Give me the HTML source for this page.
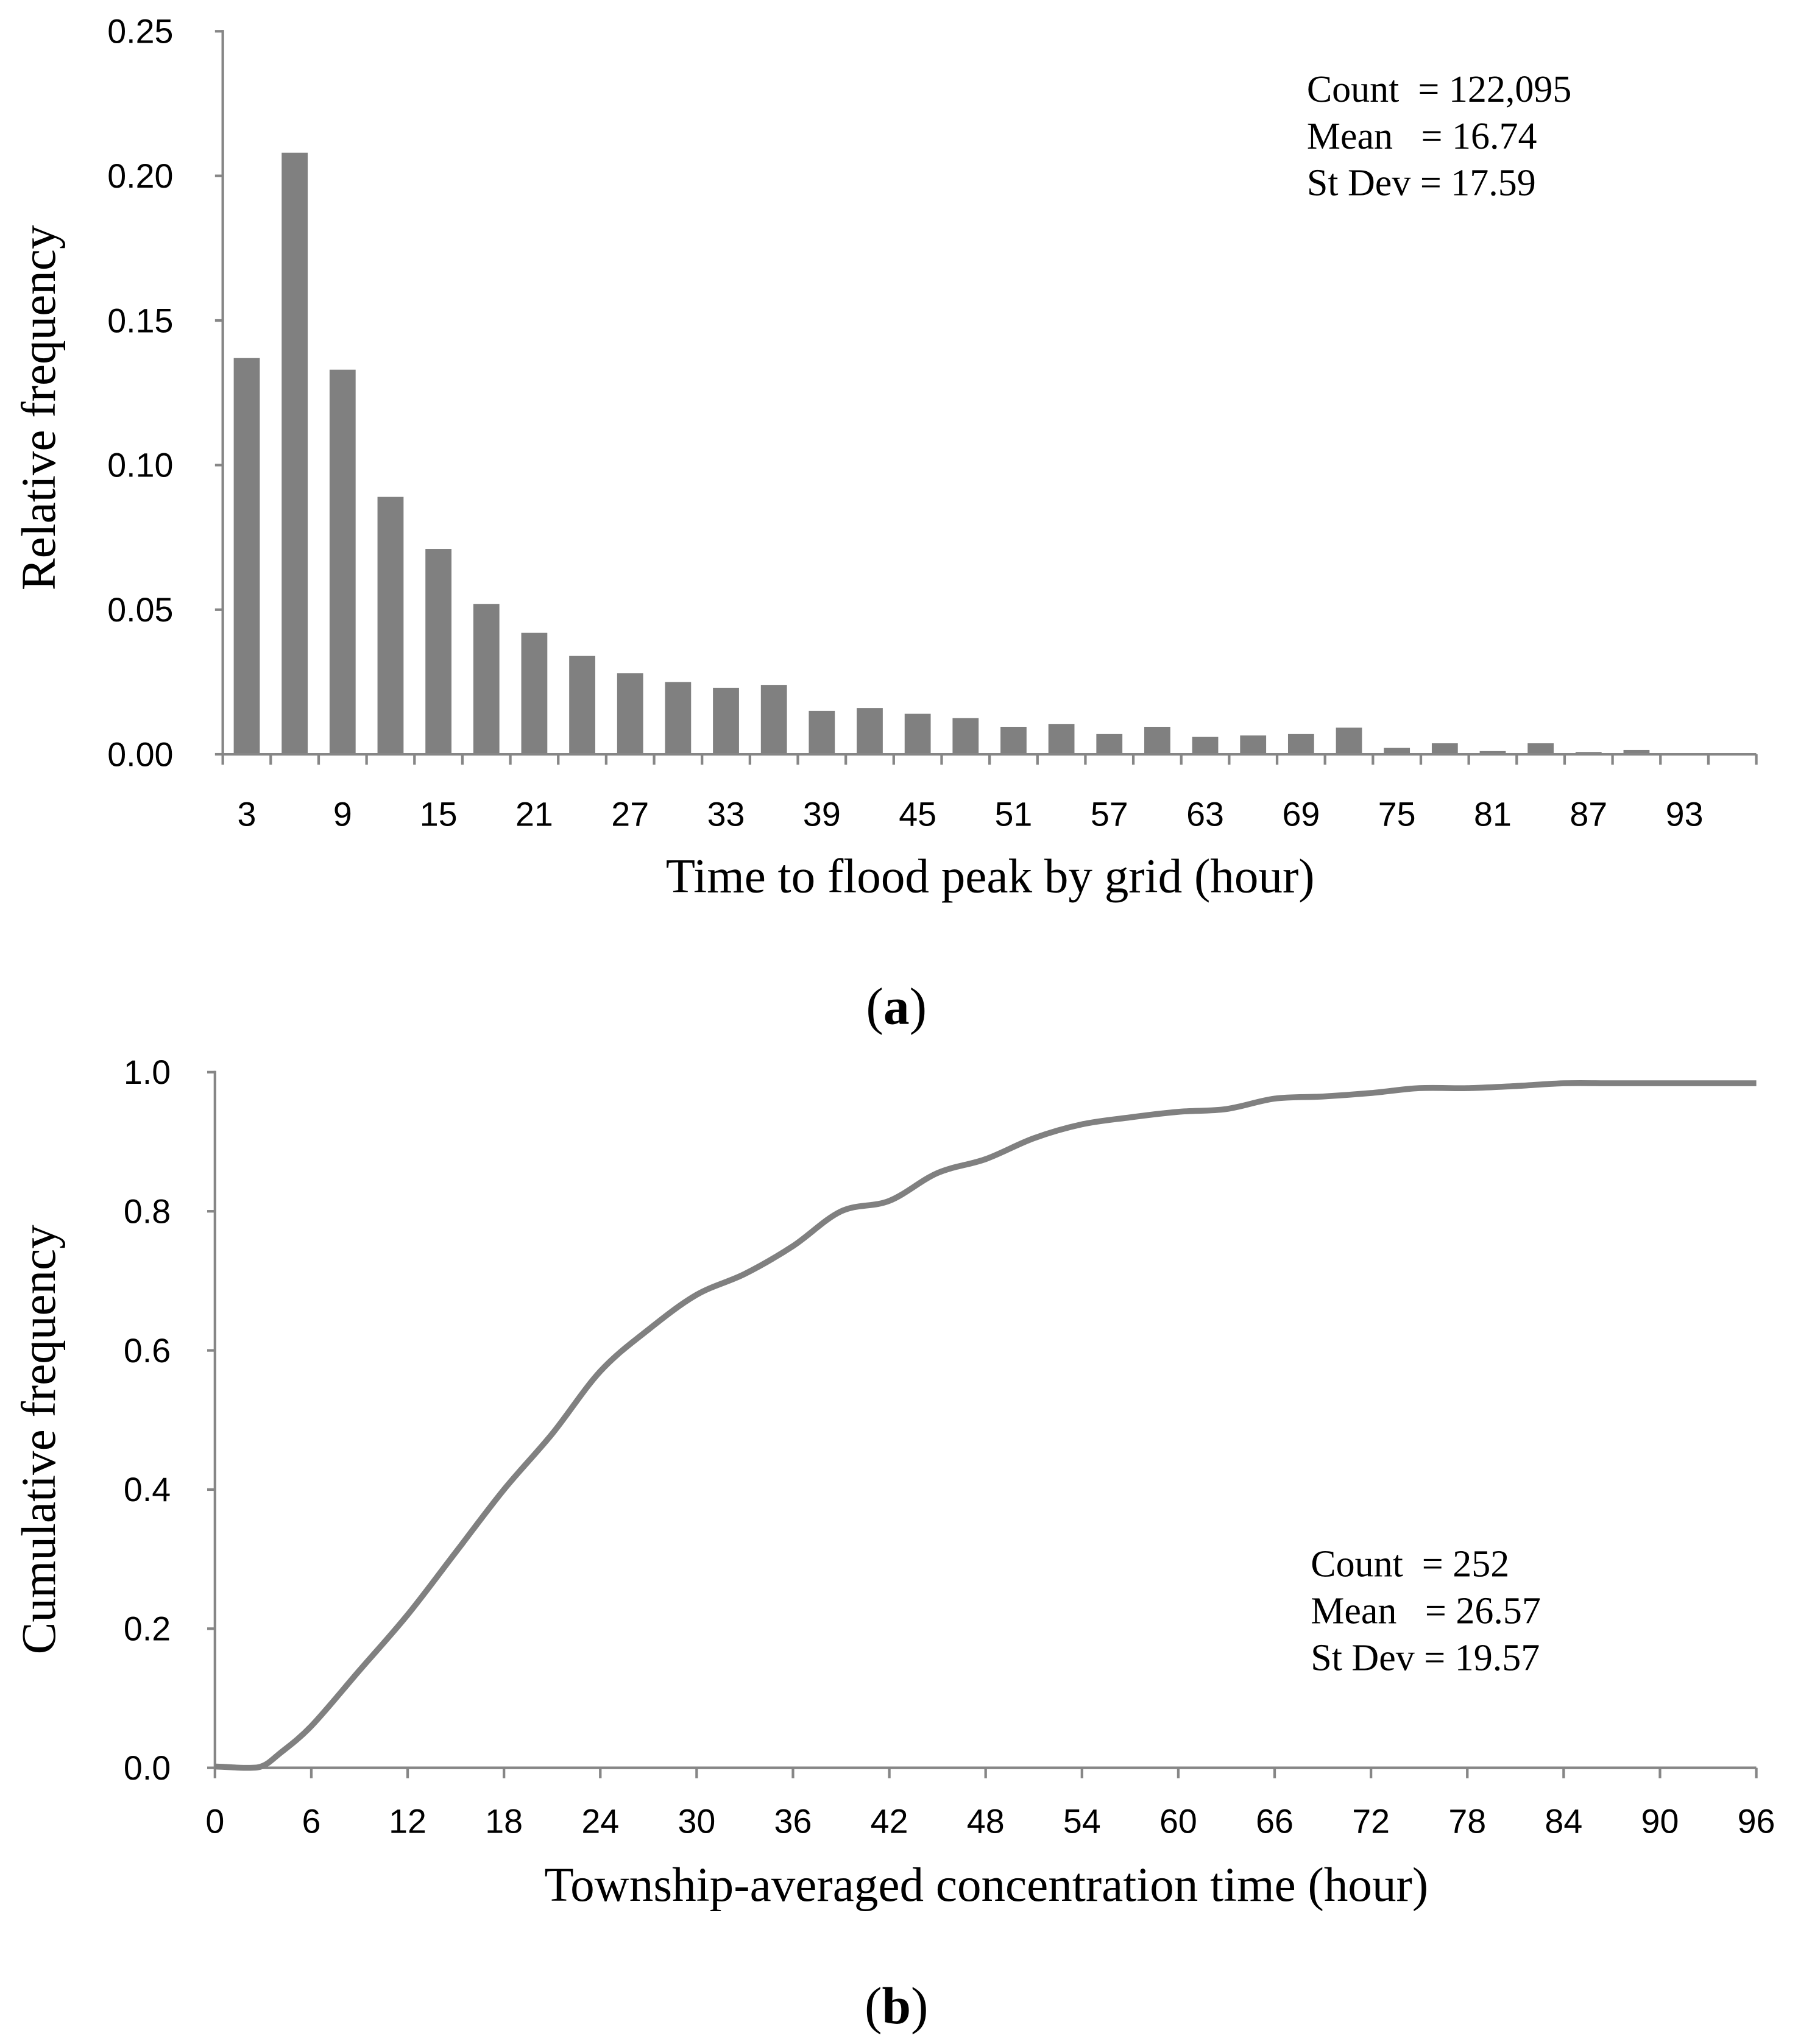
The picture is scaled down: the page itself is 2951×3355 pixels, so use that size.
<!DOCTYPE html>
<html><head><meta charset="utf-8"><style>
html,body{margin:0;padding:0;background:#fff;}
svg{display:block;}
.tick{font-family:"Liberation Sans",sans-serif;font-size:26px;fill:#000;}
.title{font-family:"Liberation Serif",serif;font-size:37px;fill:#000;}
.panel{font-family:"Liberation Serif",serif;font-size:40px;fill:#000;}
.note{font-family:"Liberation Serif",serif;font-size:29px;fill:#000;white-space:pre;}
</style></head><body>
<svg id="fig" width="2951" height="3355" viewBox="0 0 1380 1569" preserveAspectRatio="none" xmlns="http://www.w3.org/2000/svg">
<g id="chartA"></g>
<g id="chartB"></g>
</svg>
<script>
const aCategories=[3,6,9,12,15,18,21,24,27,30,33,36,39,42,45,48,51,54,57,60,63,66,69,72,75,78,81,84,87,90,93,96];
const aValues=[0.137,0.208,0.133,0.089,0.071,0.052,0.042,0.034,0.028,0.025,0.023,0.024,0.015,0.016,0.014,0.0125,0.0095,0.0105,0.007,0.0095,0.006,0.0065,0.007,0.0092,0.0022,0.0038,0.0011,0.0038,0.0008,0.0015,0,0];
const aYTicks=[0,0.05,0.10,0.15,0.20,0.25];
const bX=[0,2,3,4,6,9,12,15,18,21,24,27,30,33,36,39,42,45,48,51,54,57,60,63,66,69,72,75,78,81,84,87,90,96];
const bY=[0.002,0.0,0.003,0.02,0.06,0.14,0.22,0.31,0.40,0.48,0.57,0.63,0.68,0.71,0.75,0.80,0.815,0.855,0.875,0.905,0.925,0.935,0.943,0.947,0.962,0.965,0.97,0.977,0.977,0.98,0.984,0.984,0.984,0.984];
const bXTicks=[0,6,12,18,24,30,36,42,48,54,60,66,72,78,84,90,96];
const bYTicks=[0,0.2,0.4,0.6,0.8,1.0];
const NS="http://www.w3.org/2000/svg";
function mk(parent,tag,attrs,text){const e=document.createElementNS(NS,tag);for(const k in attrs)e.setAttribute(k,attrs[k]);if(text!==undefined)e.textContent=text;parent.appendChild(e);return e;}
// Chart A
const A=document.getElementById('chartA');
const ax0=171,ax1=1348,ay0=579,ay1=24;
const ayS=v=>ay0-(v/0.25)*(ay0-ay1);
const cw=(ax1-ax0)/aCategories.length;
aValues.forEach((v,i)=>{
 const r=mk(A,'rect',{x:ax0+i*cw+cw/2-10,y:ayS(v),width:20,height:ay0-ayS(v),fill:'#808080'});
 
 
});
let l=mk(A,'line',{x1:ax0,y1:ay1-1,x2:ax0,y2:ay0,stroke:'#868686','stroke-width':2});


l=mk(A,'line',{x1:ax0,y1:ay0,x2:ax1,y2:ay0,stroke:'#868686','stroke-width':2});


aYTicks.forEach(t=>{
 mk(A,'line',{x1:ax0-6,y1:ayS(t),x2:ax0,y2:ayS(t),stroke:'#868686','stroke-width':2});
 const tx=mk(A,'text',{x:ax0-38,y:ayS(t)+9,'text-anchor':'end',class:'tick'},t.toFixed(2));
 
 
});
for(let i=0;i<=aCategories.length;i++){mk(A,'line',{x1:ax0+i*cw,y1:ay0,x2:ax0+i*cw,y2:ay0+8,stroke:'#868686','stroke-width':2});}
aCategories.forEach((c,i)=>{if(i%2===0){
 const tx=mk(A,'text',{x:ax0+i*cw+cw/2,y:634,'text-anchor':'middle',class:'tick'},String(c));
 
 
}});
let t=mk(A,'text',{x:760,y:685,'text-anchor':'middle',class:'title'},'Time to flood peak by grid (hour)');


t=mk(A,'text',{x:0,y:0,'text-anchor':'middle',class:'title',transform:'translate(42,313) rotate(-90)'},'Relative frequency');


['Count  = 122,095','Mean   = 16.74','St Dev = 17.59'].forEach((s,i)=>{
 const n=mk(A,'text',{x:1003,y:78+i*36,class:'note'},s);
 
 
});
t=mk(A,'text',{x:688,y:786,'text-anchor':'middle',class:'panel'},'');
t.innerHTML='(<tspan font-weight="bold">a</tspan>)';


// Chart B
const B=document.getElementById('chartB');
const bx0=165,bx1=1348,by0=1357,by1=823;
const bxS=v=>bx0+(v/96)*(bx1-bx0);
const byS=v=>by0-v*(by0-by1);
l=mk(B,'line',{x1:bx0,y1:by1-1,x2:bx0,y2:by0,stroke:'#868686','stroke-width':2});


l=mk(B,'line',{x1:bx0,y1:by0,x2:bx1,y2:by0,stroke:'#868686','stroke-width':2});


bYTicks.forEach(v=>{
 mk(B,'line',{x1:bx0-6,y1:byS(v),x2:bx0,y2:byS(v),stroke:'#868686','stroke-width':2});
 const tx=mk(B,'text',{x:bx0-34,y:byS(v)+9,'text-anchor':'end',class:'tick'},v.toFixed(1));
 
 
});
bXTicks.forEach(v=>{
 mk(B,'line',{x1:bxS(v),y1:by0,x2:bxS(v),y2:by0+8,stroke:'#868686','stroke-width':2});
 const tx=mk(B,'text',{x:bxS(v),y:1407,'text-anchor':'middle',class:'tick'},String(v));
 
 
});
const pts=bX.map((x,i)=>[bxS(x),byS(bY[i])]);
let d='M'+pts[0][0]+','+pts[0][1];
for(let i=0;i<pts.length-1;i++){
 const p0=pts[Math.max(0,i-1)],p1=pts[i],p2=pts[i+1],p3=pts[Math.min(pts.length-1,i+2)];
 const c1=[p1[0]+(p2[0]-p0[0])/6,p1[1]+(p2[1]-p0[1])/6];
 const c2=[p2[0]-(p3[0]-p1[0])/6,p2[1]-(p3[1]-p1[1])/6];
 d+=' C'+c1[0]+','+c1[1]+' '+c2[0]+','+c2[1]+' '+p2[0]+','+p2[1];
}
const cv=mk(B,'path',{d:d,fill:'none',stroke:'#808080','stroke-width':4.5,'stroke-linejoin':'round'});


t=mk(B,'text',{x:757,y:1459,'text-anchor':'middle',class:'title'},'Township-averaged concentration time (hour)');


t=mk(B,'text',{x:0,y:0,'text-anchor':'middle',class:'title',transform:'translate(42,1105) rotate(-90)'},'Cumulative frequency');


['Count  = 252','Mean   = 26.57','St Dev = 19.57'].forEach((s,i)=>{
 const n=mk(B,'text',{x:1006,y:1210+i*36,class:'note'},s);
 
 
});
t=mk(B,'text',{x:688,y:1553,'text-anchor':'middle',class:'panel'},'');
t.innerHTML='(<tspan font-weight="bold">b</tspan>)';


</script>
</body></html>
